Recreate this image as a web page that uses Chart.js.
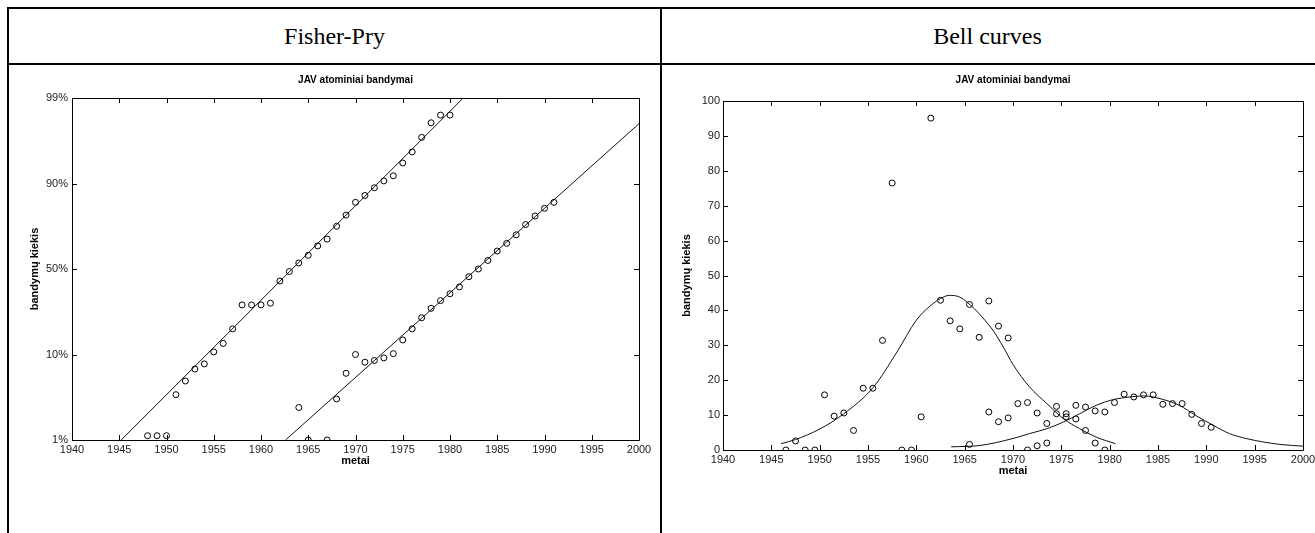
<!DOCTYPE html>
<html>
<head>
<meta charset="utf-8">
<script src="https://cdn.jsdelivr.net/npm/chart.js@4.4.0/dist/chart.umd.min.js"></script>
<style>
    body { margin: 0; background: #fff; width: 1315px; height: 533px; overflow: hidden; position: relative; }
    .rule { position: absolute; background: #000; z-index: 2; }
    .head { position: absolute; top: 9px; height: 54px; line-height: 54px; text-align: center;
            font-family: "Liberation Serif", "Times New Roman", serif; font-size: 24px; color: #000; }
    canvas { position: absolute; }
</style>
</head>
<body>
<div class="rule" style="left:7px; top:7px; width:1308px; height:2px;"></div>
<div class="rule" style="left:7px; top:63px; width:1308px; height:2px;"></div>
<div class="rule" style="left:7px; top:7px; width:2px; height:526px;"></div>
<div class="rule" style="left:660px; top:7px; width:2px; height:526px;"></div>
<div class="head" style="left:9px; width:651px;">Fisher-Pry</div>
<div class="head" style="left:662px; width:651px;">Bell curves</div>

<canvas id="fisher-pry" width="650" height="467" style="left:10px; top:66px;"></canvas>
<canvas id="bell" width="652" height="467" style="left:663px; top:66px;"></canvas>

<script>
// ---- Fisher-Pry (y = log10(f/(1-f)), ticks labelled as shares) ----
const fpYears1 = [1948, 1949, 1950, 1951, 1952, 1953, 1954, 1955, 1956, 1957, 1958, 1959, 1960, 1961,
    1962, 1963, 1964, 1965, 1966, 1967, 1968, 1969, 1970, 1971, 1972, 1973, 1974, 1975, 1976, 1977,
    1978, 1979, 1980];
const fpShare1 = [-1.95, -1.95, -1.95, -1.47, -1.31, -1.17, -1.11, -0.97, -0.87, -0.70, -0.42, -0.42,
    -0.42, -0.40, -0.14, -0.03, 0.07, 0.16, 0.27, 0.35, 0.50, 0.63, 0.78, 0.86, 0.95, 1.03, 1.09,
    1.24, 1.37, 1.54, 1.71, 1.80, 1.80];
const fpYears2 = [1964, 1965, 1967, 1968, 1969, 1970, 1971, 1972, 1973, 1974, 1975, 1976, 1977, 1978,
    1979, 1980, 1981, 1982, 1983, 1984, 1985, 1986, 1987, 1988, 1989, 1990, 1991];
const fpShare2 = [-1.62, -2.0, -2.0, -1.52, -1.22, -1.0, -1.09, -1.07, -1.04, -0.99, -0.83, -0.70,
    -0.57, -0.46, -0.37, -0.29, -0.21, -0.09, 0.0, 0.10, 0.21, 0.30, 0.40, 0.52, 0.62, 0.71, 0.78];
const fpFit1X = [1945.2, 1981.4];
const fpFit1Y = [-2, 2];
const fpFit2X = [1962.6, 2000];
const fpFit2Y = [-2, 1.70];
const fpTickValues = [-2, -1, 0, 1, 2];
const fpTickLabels = ['1%', '10%', '50%', '90%', '99%'];

// ---- Bell curves (tests per year) ----
const bellYears1 = [1946.5, 1947.5, 1948.5, 1949.5, 1950.5, 1951.5, 1952.5, 1953.5, 1954.5, 1955.5,
    1956.5, 1957.5, 1958.5, 1959.5, 1960.5, 1961.5, 1962.5, 1963.5, 1964.5, 1965.5, 1966.5, 1967.5,
    1968.5, 1969.5, 1970.5, 1971.5, 1972.5, 1973.5, 1974.5, 1975.5, 1976.5, 1977.5, 1978.5, 1979.5];
const bellTests1 = [0, 2.6, 0, 0, 15.8, 9.7, 10.6, 5.6, 17.7, 17.7, 31.4, 76.5, 0, 0, 9.5, 95.1,
    42.9, 37.0, 34.7, 41.7, 32.3, 42.7, 35.5, 32.1, 13.3, 13.6, 10.6, 7.6, 10.4, 10.4, 8.9, 5.6, 2.0, 0];
const bellYears2 = [1965.5, 1967.5, 1968.5, 1969.5, 1971.5, 1972.5, 1973.5, 1974.5, 1975.5, 1976.5,
    1977.5, 1978.5, 1979.5, 1980.5, 1981.5, 1982.5, 1983.5, 1984.5, 1985.5, 1986.5, 1987.5, 1988.5,
    1989.5, 1990.5];
const bellTests2 = [1.6, 10.9, 8.1, 9.2, 0, 1.2, 2.0, 12.5, 9.5, 12.8, 12.3, 11.2, 10.9, 13.6, 16.0,
    15.2, 15.8, 15.8, 13.1, 13.3, 13.3, 10.2, 7.6, 6.5];
// fitted curves
const curve1X = [1946.0, 1947.5, 1950, 1952.5, 1955.5, 1958, 1960, 1961.4, 1962.5, 1963.4, 1964.5,
    1966, 1967, 1968, 1969, 1970, 1971.7, 1973.5, 1975.2, 1976.9, 1978.6, 1980.6];
const curve1Y = [1.8, 3.0, 6.0, 10.4, 17.8, 28.1, 37.2, 41.2, 43.4, 44.3, 43.8, 40.5, 37.5, 34.0,
    29.5, 24.5, 18.1, 13.3, 9.0, 6.1, 3.7, 1.8];
const curve2X = [1963.6, 1966.6, 1970, 1971.7, 1973.5, 1975.2, 1976.9, 1978.6, 1980.3, 1982.1, 1983.5,
    1985.5, 1987.2, 1988.9, 1990.7, 1992.4, 1994.1, 1995.9, 1997.6, 2000];
const curve2Y = [0.9, 1.3, 3.3, 4.7, 6.1, 8.0, 10.4, 12.8, 14.4, 15.2, 15.5, 14.5, 12.8, 9.9, 7.1, 4.7,
    3.3, 2.3, 1.6, 1.1];

const pairs = (xs, ys) => xs.map((x, i) => ({x: x, y: ys[i]}));

function pointSet(xs, ys) {
    return {
        data: pairs(xs, ys),
        showLine: false,
        pointRadius: 3,
        pointBorderWidth: 1,
        borderColor: '#000',
        pointBackgroundColor: 'rgba(0,0,0,0)',
        clip: 0
    };
}

function lineSet(xs, ys) {
    return {
        data: pairs(xs, ys),
        showLine: true,
        pointRadius: 0,
        borderWidth: 1,
        borderColor: '#111',
        cubicInterpolationMode: 'monotone',
        clip: 0
    };
}

// MATLAB-like box with inward ticks on all four sides
const frameTicks = {
    id: 'frameTicks',
    afterDatasetsDraw(chart) {
        const {ctx, chartArea: a, scales} = chart;
        const len = 5;
        ctx.save();
        ctx.strokeStyle = '#000';
        ctx.lineWidth = 1;
        ctx.beginPath();
        ctx.rect(a.left + 0.5, a.top + 0.5, a.right - a.left, a.bottom - a.top);
        scales.x.ticks.forEach(t => {
            const p = Math.round(scales.x.getPixelForValue(t.value)) + 0.5;
            ctx.moveTo(p, a.top); ctx.lineTo(p, a.top + len);
            ctx.moveTo(p, a.bottom); ctx.lineTo(p, a.bottom - len);
        });
        scales.y.ticks.forEach(t => {
            const p = Math.round(scales.y.getPixelForValue(t.value)) + 0.5;
            ctx.moveTo(a.left, p); ctx.lineTo(a.left + len, p);
            ctx.moveTo(a.right, p); ctx.lineTo(a.right - len, p);
        });
        ctx.stroke();
        ctx.restore();
    }
};

const tickFont = {family: '"Liberation Sans", Arial, sans-serif', size: 11};
const boldFont = {family: '"Liberation Sans", Arial, sans-serif', size: 11, weight: 'bold'};

function options(pad, yWidth, titleBottom, yScale) {
    return {
        responsive: false,
        animation: false,
        devicePixelRatio: 1,
        layout: {padding: pad},
        plugins: {
            legend: {display: false},
            tooltip: {enabled: false},
            title: {
                display: true,
                text: 'JAV atominiai bandymai',
                fullSize: false,
                color: '#000',
                font: {family: '"Liberation Sans", Arial, sans-serif', size: 10, weight: 'bold'},
                padding: {top: 8, bottom: titleBottom}
            }
        },
        scales: {
            x: {
                type: 'linear',
                min: 1940,
                max: 2000,
                grid: {display: false, drawTicks: false},
                border: {display: false},
                ticks: {
                    stepSize: 5,
                    autoSkip: false,
                    maxRotation: 0,
                    padding: 3,
                    color: '#222',
                    font: tickFont,
                    callback: v => String(v)
                },
                title: {display: true, text: 'metai', color: '#000', font: boldFont, padding: 0},
                afterFit: s => { s.height = 28; s.paddingLeft = 0; s.paddingRight = 0; }
            },
            y: Object.assign({
                type: 'linear',
                grid: {display: false, drawTicks: false},
                border: {display: false},
                title: {display: true, text: 'bandymų kiekis', color: '#000', font: boldFont, padding: 0},
                afterFit: s => { s.width = yWidth; s.paddingTop = 0; s.paddingBottom = 0; }
            }, yScale)
        }
    };
}

new Chart(document.getElementById('fisher-pry'), {
    type: 'scatter',
    data: {
        datasets: [
            lineSet(fpFit1X, fpFit1Y),
            lineSet(fpFit2X, fpFit2Y),
            pointSet(fpYears1, fpShare1),
            pointSet(fpYears2, fpShare2)
        ]
    },
    options: options({left: 18, right: 21, top: 0, bottom: 65}, 44, 12, {
        min: -2,
        max: 2,
        ticks: {
            stepSize: 1,
            padding: 4,
            color: '#222',
            font: tickFont,
            callback: v => fpTickLabels[fpTickValues.indexOf(v)]
        }
    }),
    plugins: [frameTicks]
});

new Chart(document.getElementById('bell'), {
    type: 'scatter',
    data: {
        datasets: [
            lineSet(curve1X, curve1Y),
            lineSet(curve2X, curve2Y),
            pointSet(bellYears1, bellTests1),
            pointSet(bellYears2, bellTests2)
        ]
    },
    options: options({left: 17, right: 12, top: 0, bottom: 55}, 43, 15, {
        min: 0,
        max: 100,
        ticks: {stepSize: 10, padding: 3, color: '#222', font: tickFont}
    }),
    plugins: [frameTicks]
});
</script>
</body>
</html>
